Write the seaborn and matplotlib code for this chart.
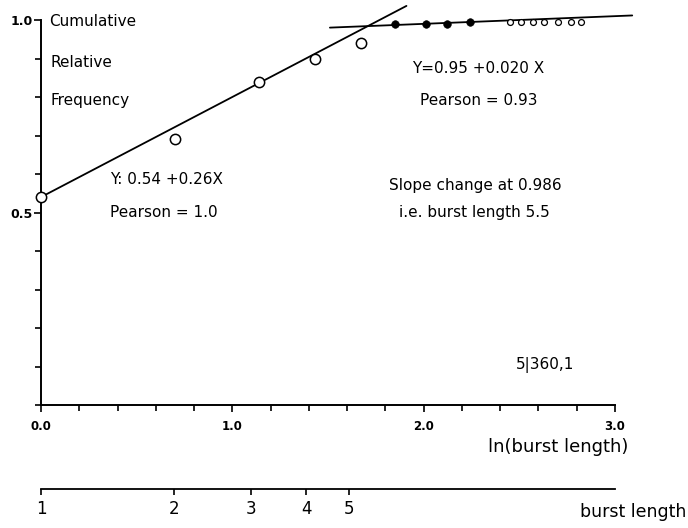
import numpy as np
import pandas as pd
import matplotlib
matplotlib.use("Agg")
import matplotlib.pyplot as plt
from matplotlib.ticker import MultipleLocator, FixedLocator
import seaborn as sns

# ln(burst length) and cumulative relative frequency
x_open = [0.0, 0.70, 1.14, 1.43, 1.67]
y_open = [0.54, 0.69, 0.84, 0.90, 0.94]
x_filled = [1.85, 2.01, 2.12, 2.24]
y_filled = [0.99, 0.99, 0.99, 0.995]
x_small = [2.45, 2.51, 2.57, 2.63, 2.70, 2.77, 2.82]
y_small = [0.995, 0.995, 0.995, 0.995, 0.995, 0.995, 0.995]

# regression fits: Y = a + b X
fit_low = (0.54, 0.26)
fit_low_range = [0.0, 1.91]
fit_high = (0.95, 0.020)
fit_high_range = [1.51, 3.09]

burst_ticks = [1, 2, 3, 4, 5]
x_major = [0.0, 1.0, 2.0, 3.0]
y_major = [0.5, 1.0]

sns.set_theme(style="white")
plt.rcParams["font.family"] = ["DejaVu Sans"]
plt.rcParams["text.color"] = "black"
plt.rcParams["xtick.color"] = "black"
plt.rcParams["ytick.color"] = "black"
plt.rcParams["xtick.labelcolor"] = "black"
plt.rcParams["ytick.labelcolor"] = "black"

fig = plt.figure(figsize=(6.88, 5.28), dpi=100)
W, H = 688, 528
ax = fig.add_axes([41 / W, (H - 405) / H, 574 / W, 385 / H])
ax.set_xlim(0, 3.0)
ax.set_ylim(0, 1.0)

def fit_frame(coef, xr):
    xs = np.array(xr)
    return pd.DataFrame({"x": xs, "y": coef[0] + coef[1] * xs})

for coef, xr in [(fit_low, fit_low_range), (fit_high, fit_high_range)]:
    sns.lineplot(data=fit_frame(coef, xr), x="x", y="y", ax=ax,
                 color="black", lw=1.3, clip_on=False)

sns.scatterplot(x=x_open, y=y_open, ax=ax, marker="o", s=55,
                facecolor="white", edgecolor="black", linewidth=1.1,
                clip_on=False, zorder=3)
sns.scatterplot(x=x_filled, y=y_filled, ax=ax, marker="o", s=30,
                color="black", edgecolor="black", clip_on=False, zorder=3)
sns.scatterplot(x=x_small, y=y_small, ax=ax, marker="o", s=18,
                facecolor="white", edgecolor="black", linewidth=0.9,
                clip_on=False, zorder=3)

# axes styling
for side in ["top", "right"]:
    ax.spines[side].set_visible(False)
for side in ["left", "bottom"]:
    ax.spines[side].set_color("black")
    ax.spines[side].set_linewidth(1.4)
ax.xaxis.set_major_locator(FixedLocator(x_major))
ax.xaxis.set_minor_locator(MultipleLocator(0.2))
ax.yaxis.set_major_locator(FixedLocator(y_major))
ax.yaxis.set_minor_locator(MultipleLocator(0.1))
ax.set_xticklabels([f"{v:.1f}" for v in x_major])
ax.set_yticklabels([f"{v:.1f}" for v in y_major])
ax.tick_params(axis="both", which="both", direction="out", color="black",
               width=1.2, bottom=True, left=True)
ax.tick_params(axis="x", which="major", length=5, pad=6, labelsize=8.5)
ax.tick_params(axis="x", which="minor", length=4)
ax.tick_params(axis="y", which="major", length=5, pad=1, labelsize=9)
ax.tick_params(axis="y", which="minor", length=4)
ax.set_xlabel("")
ax.set_ylabel("")
for lbl in ax.get_xticklabels() + ax.get_yticklabels():
    lbl.set_fontweight("bold")

# second scale: burst length itself (log spaced)
sec = ax.secondary_xaxis(-0.218, functions=(np.exp, np.log))
sec.xaxis.set_major_locator(FixedLocator(burst_ticks))
sec.xaxis.set_minor_locator(FixedLocator([]))
sec.set_xticklabels([str(v) for v in burst_ticks])
sec.tick_params(axis="x", length=4, width=1.2, color="black",
                labelcolor="black", labelsize=12, pad=4)
sec.spines["bottom"].set_linewidth(1.3)
sec.spines["bottom"].set_color("black")

# annotations
txt = dict(color="black", fontsize=11, clip_on=False)
ax.text(0.04, 0.995, "Cumulative", va="center", ha="left", **txt)
ax.text(0.05, 0.89, "Relative", va="center", ha="left", **txt)
ax.text(0.05, 0.79, "Frequency", va="center", ha="left", **txt)
ax.text(0.36, 0.585, "Y: 0.54 +0.26X", va="center", ha="left", **txt)
ax.text(0.36, 0.50, "Pearson = 1.0", va="center", ha="left", **txt)
ax.text(1.94, 0.875, "Y=0.95 +0.020 X", va="center", ha="left", **txt)
ax.text(1.98, 0.79, "Pearson = 0.93", va="center", ha="left", **txt)
ax.text(1.82, 0.57, "Slope change at 0.986", va="center", ha="left", **txt)
ax.text(1.87, 0.50, "i.e. burst length 5.5", va="center", ha="left", **txt)
ax.text(2.48, 0.104, "5|360,1", va="center", ha="left", **txt)
ax.text(3.07, -0.11, "ln(burst length)", va="center", ha="right",
        color="black", fontsize=13, clip_on=False)
fig.text(686 / W, 1 - 512 / H, "burst length", va="center", ha="right",
         color="black", fontsize=12.5)

fig.savefig("out.png", dpi=100, facecolor="white")
